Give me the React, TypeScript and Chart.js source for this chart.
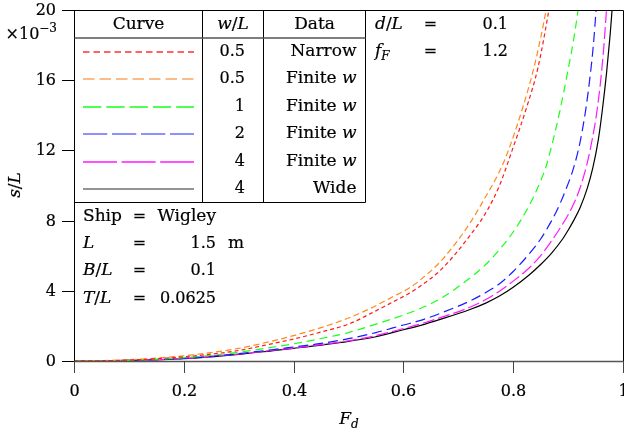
import React, { useEffect, useRef } from 'react';
import { Chart, registerables } from 'chart.js';

Chart.register(...registerables);

// ---- tick labels ----
const xTickValues = [0, 0.2, 0.4, 0.6, 0.8, 1];
const xTickLabels = ['0', '0.2', '0.4', '0.6', '0.8', '1'];
const yTickValues = [0, 4, 8, 12, 16, 20];
const yTickLabels = ['0', '4', '8', '12', '16', '20'];

// ---- series (s/L in units of 1e-3, against F_d) ----
const narrow05Fd = [0, 0.1, 0.2, 0.3, 0.36, 0.4, 0.45, 0.5, 0.54, 0.58, 0.61, 0.63, 0.67, 0.72, 0.753, 0.775, 0.798, 0.826, 0.845, 0.865, 0.88];
const narrow05S = [0, 0.05, 0.24, 0.6, 0.98, 1.25, 1.65, 2.1, 2.7, 3.35, 3.85, 4.25, 5.25, 7.1, 8.6, 10.0, 12.0, 14.6, 16.7, 20, 23];

const finite05Fd = [0, 0.1, 0.2, 0.3, 0.36, 0.4, 0.45, 0.5, 0.54, 0.58, 0.61, 0.63, 0.67, 0.72, 0.745, 0.775, 0.79, 0.817, 0.84, 0.86, 0.875];
const finite05S = [0, 0.07, 0.3, 0.72, 1.13, 1.45, 1.9, 2.45, 3.0, 3.65, 4.15, 4.6, 5.75, 7.8, 9.1, 10.8, 11.9, 14.4, 17.0, 20, 22.8];

const finite1Fd = [0, 0.1, 0.2, 0.3, 0.36, 0.4, 0.45, 0.5, 0.55, 0.6, 0.63, 0.67, 0.72, 0.75, 0.775, 0.8, 0.829, 0.845, 0.86, 0.872, 0.884, 0.9, 0.91, 0.918, 0.93];
const finite1S = [0, 0.04, 0.19, 0.5, 0.78, 0.98, 1.28, 1.62, 2.1, 2.62, 2.98, 3.6, 4.7, 5.5, 6.35, 7.35, 8.85, 9.9, 11.1, 12.5, 14.1, 16.6, 18.3, 20, 23.5];

const finite2Fd = [0, 0.1, 0.2, 0.3, 0.36, 0.4, 0.45, 0.5, 0.55, 0.6, 0.63, 0.67, 0.72, 0.75, 0.775, 0.8, 0.829, 0.85, 0.87, 0.88, 0.895, 0.91, 0.922, 0.932, 0.94, 0.946, 0.951, 0.958];
const finite2S = [0, 0.035, 0.15, 0.42, 0.64, 0.8, 1.0, 1.27, 1.62, 2.05, 2.3, 2.75, 3.4, 3.9, 4.4, 5.1, 6.1, 6.95, 8.0, 8.6, 9.7, 11.0, 12.5, 14.3, 16.2, 18.0, 20, 23];

const finite4Fd = [0, 0.1, 0.2, 0.3, 0.36, 0.4, 0.5, 0.55, 0.6, 0.63, 0.67, 0.72, 0.75, 0.775, 0.8, 0.829, 0.85, 0.87, 0.89, 0.907, 0.92, 0.935, 0.945, 0.951, 0.958, 0.964, 0.969, 0.975];
const finite4S = [0, 0.03, 0.14, 0.4, 0.6, 0.74, 1.15, 1.45, 1.85, 2.1, 2.5, 3.05, 3.5, 3.98, 4.55, 5.3, 6.0, 6.85, 7.8, 8.75, 9.7, 11.3, 12.8, 13.9, 15.6, 17.5, 19.6, 22.5];

const wide4Fd = [0, 0.1, 0.2, 0.3, 0.36, 0.4, 0.5, 0.55, 0.6, 0.63, 0.67, 0.72, 0.75, 0.775, 0.8, 0.829, 0.85, 0.87, 0.89, 0.9, 0.91, 0.922, 0.935, 0.945, 0.955, 0.962, 0.97, 0.976, 0.98, 0.986];
const wide4S = [0, 0.03, 0.13, 0.38, 0.58, 0.72, 1.12, 1.38, 1.78, 2.02, 2.4, 2.92, 3.3, 3.7, 4.2, 4.9, 5.5, 6.15, 6.95, 7.45, 8.0, 8.75, 9.85, 11.0, 12.6, 14.2, 16.4, 18.4, 20, 23.5];

// ---- legend table text ----
const wOverL = ['0.5', '0.5', '1', '2', '4', '4'];
const dataKind = ['Narrow', 'Finite', 'Finite', 'Finite', 'Finite', 'Wide'];

const series = [
  { fd: narrow05Fd, s: narrow05S, color: '#ff1a1a', dash: [4, 3], legendDash: [6.5, 4], legendColor: '#ff3030' },
  { fd: finite05Fd, s: finite05S, color: '#ff8a1e', dash: [6, 3.5], legendDash: [11.5, 5], legendColor: '#f7a868' },
  { fd: finite1Fd, s: finite1S, color: '#19ff19', dash: [8, 5], legendDash: [18.3, 5], legendColor: '#19ff19' },
  { fd: finite2Fd, s: finite2S, color: '#1a1aff', dash: [10, 5], legendDash: [24.3, 4.7], legendColor: '#6b6bff' },
  { fd: finite4Fd, s: finite4S, color: '#ff19ff', dash: [12, 4], legendDash: [34, 4.6], legendColor: '#ff19ff' },
  { fd: wide4Fd, s: wide4S, color: '#000000', dash: [], legendDash: [], legendColor: '#707070' },
];

const FAM = '"DejaVu Serif"';
const RM = `16px ${FAM}`;
const WD = `17px ${FAM}`;
const IT = `italic 17px ${FAM}`;
const SM = `12px ${FAM}`;
const SMIT = `italic 12px ${FAM}`;

type Run = { t: string; f: string; dy?: number };

function drawRuns(ctx: CanvasRenderingContext2D, runs: Run[], x: number, y: number, align: 'left' | 'right' | 'center') {
  let total = 0;
  const widths = runs.map((r) => {
    ctx.font = r.f;
    const w = ctx.measureText(r.t).width;
    total += w;
    return w;
  });
  let cx = align === 'left' ? x : align === 'right' ? x - total : x - total / 2;
  ctx.textAlign = 'left';
  ctx.textBaseline = 'middle';
  ctx.save();
  ctx.fillStyle = '#000';
  ctx.strokeStyle = '#000';
  ctx.lineWidth = 0.2;
  ctx.setLineDash([]);
  runs.forEach((r, i) => {
    ctx.font = r.f;
    ctx.fillText(r.t, cx, y + (r.dy || 0));
    ctx.strokeText(r.t, cx, y + (r.dy || 0));
    cx += widths[i];
  });
  ctx.restore();
}

function hLine(ctx: CanvasRenderingContext2D, x1: number, x2: number, y: number) {
  ctx.beginPath();
  ctx.moveTo(x1, y);
  ctx.lineTo(x2, y);
  ctx.stroke();
}
function vLine(ctx: CanvasRenderingContext2D, x: number, y1: number, y2: number) {
  ctx.beginPath();
  ctx.moveTo(x, y1);
  ctx.lineTo(x, y2);
  ctx.stroke();
}

const overlay = {
  id: 'overlay',
  afterDraw(chart: any) {
    const ctx: CanvasRenderingContext2D = chart.ctx;
    const a = chart.chartArea;
    const xs = chart.scales.x;
    const ys = chart.scales.y;
    ctx.save();
    ctx.strokeStyle = '#000';
    ctx.lineWidth = 1;
    ctx.setLineDash([]);

    const L = Math.round(a.left) + 0.5;
    const T = Math.round(a.top) + 0.5;
    const R = Math.round(a.right) + 0.5;
    const B = Math.round(a.bottom);

    // frame
    vLine(ctx, L, T - 0.5, B + 1);
    hLine(ctx, L, R, T);
    vLine(ctx, R, T, B + 1);
    ctx.strokeStyle = '#555';
    ctx.lineWidth = 1.3;
    hLine(ctx, L - 0.5, R, B + 0.5);

    // y ticks
    ctx.strokeStyle = '#000';
    ctx.lineWidth = 1;
    yTickValues.forEach((v, i) => {
      const py = Math.round(ys.getPixelForValue(v)) + 0.5;
      hLine(ctx, L - 12.5, L, py);
      drawRuns(ctx, [{ t: yTickLabels[i], f: RM }], 56, py, 'right');
    });
    // x ticks
    ctx.strokeStyle = '#444';
    xTickValues.forEach((v, i) => {
      const px = Math.round(xs.getPixelForValue(v)) + 0.5;
      vLine(ctx, px, B, B + 12);
      drawRuns(ctx, [{ t: xTickLabels[i], f: RM }], px, 392, 'center');
    });

    // exponent
    drawRuns(ctx, [{ t: '\u00d710', f: RM }, { t: '\u22123', f: SM, dy: -6 }], 57, 35, 'right');

    // axis titles
    drawRuns(ctx, [{ t: 'F', f: IT }, { t: 'd', f: SMIT, dy: 5 }], 349, 420, 'center');
    ctx.save();
    ctx.translate(16, 185);
    ctx.rotate(-Math.PI / 2);
    drawRuns(ctx, [{ t: 's', f: IT }, { t: '/', f: WD }, { t: 'L', f: IT }], 0, 0, 'center');
    ctx.restore();

    // legend table
    const tL = L;
    const tR = 365.5;
    const c1 = 202.5;
    const c2 = 263.5;
    const tB = 202.5;
    ctx.strokeStyle = '#000';
    ctx.lineWidth = 1;
    vLine(ctx, c1, T, tB);
    vLine(ctx, c2, T, tB);
    vLine(ctx, tR, T, tB);
    hLine(ctx, tL, tR, tB);
    ctx.strokeStyle = '#555';
    ctx.lineWidth = 1.3;
    hLine(ctx, tL, tR, 38);

    drawRuns(ctx, [{ t: 'Curve', f: WD }], 138.5, 25, 'center');
    drawRuns(ctx, [{ t: 'w', f: IT }, { t: '/', f: WD }, { t: 'L', f: IT }], 233, 25, 'center');
    drawRuns(ctx, [{ t: 'Data', f: WD }], 314.5, 25, 'center');

    series.forEach((s, i) => {
      const yRow = 51.5 + i * 27.5;
      ctx.strokeStyle = s.legendColor;
      ctx.lineWidth = i === 5 ? 1.6 : 1.3;
      ctx.setLineDash(s.legendDash);
      hLine(ctx, 83, 194, Math.round(yRow));
      ctx.setLineDash([]);
      drawRuns(ctx, [{ t: wOverL[i], f: RM }], 245, yRow, 'right');
      const runs: Run[] = dataKind[i] === 'Finite' ? [{ t: 'Finite ', f: WD }, { t: 'w', f: IT }] : [{ t: dataKind[i], f: WD }];
      drawRuns(ctx, runs, 356.5, yRow, 'right');
    });

    // ship parameters
    drawRuns(ctx, [{ t: 'Ship', f: WD }], 83, 217, 'left');
    drawRuns(ctx, [{ t: '=', f: RM }], 139.5, 217, 'center');
    drawRuns(ctx, [{ t: 'Wigley', f: WD }], 216, 217, 'right');

    drawRuns(ctx, [{ t: 'L', f: IT }], 83, 244, 'left');
    drawRuns(ctx, [{ t: '=', f: RM }], 139.5, 244, 'center');
    drawRuns(ctx, [{ t: '1.5', f: RM }], 216, 244, 'right');
    drawRuns(ctx, [{ t: 'm', f: WD }], 228, 244, 'left');

    drawRuns(ctx, [{ t: 'B', f: IT }, { t: '/', f: WD }, { t: 'L', f: IT }], 83, 271, 'left');
    drawRuns(ctx, [{ t: '=', f: RM }], 139.5, 271, 'center');
    drawRuns(ctx, [{ t: '0.1', f: RM }], 216, 271, 'right');

    drawRuns(ctx, [{ t: 'T', f: IT }, { t: '/', f: WD }, { t: 'L', f: IT }], 83, 299, 'left');
    drawRuns(ctx, [{ t: '=', f: RM }], 139.5, 299, 'center');
    drawRuns(ctx, [{ t: '0.0625', f: RM }], 216, 299, 'right');

    // water parameters
    drawRuns(ctx, [{ t: 'd', f: IT }, { t: '/', f: WD }, { t: 'L', f: IT }], 375, 25, 'left');
    drawRuns(ctx, [{ t: '=', f: RM }], 430.5, 25, 'center');
    drawRuns(ctx, [{ t: '0.1', f: RM }], 508, 25, 'right');
    drawRuns(ctx, [{ t: 'f', f: IT }, { t: 'F', f: SMIT, dy: 5 }], 375, 52, 'left');
    drawRuns(ctx, [{ t: '=', f: RM }], 430.5, 52, 'center');
    drawRuns(ctx, [{ t: '1.2', f: RM }], 508, 52, 'right');

    ctx.restore();
  },
};

export default function App() {
  const ref = useRef<HTMLCanvasElement | null>(null);
  useEffect(() => {
    if (!ref.current) return;
    const chart = new Chart(ref.current, {
      type: 'line',
      data: {
        datasets: series.map((s) => ({
          data: s.fd.map((x, i) => ({ x, y: s.s[i] })),
          borderColor: s.color,
          borderDash: s.dash,
          borderWidth: 1.2,
          pointRadius: 0,
          fill: false,
          cubicInterpolationMode: 'monotone' as const,
          clip: 0,
        })),
      },
      options: {
        animation: false,
        responsive: false,
        events: [],
        layout: { padding: { left: 0, top: 10, right: 1, bottom: 0 } },
        plugins: { legend: { display: false }, tooltip: { enabled: false } },
        scales: {
          x: {
            type: 'linear',
            min: 0,
            max: 1,
            ticks: { display: false },
            grid: { display: false },
            border: { display: false },
            afterFit: (s: any) => {
              s.height = 80;
            },
          },
          y: {
            type: 'linear',
            min: 0,
            max: 20,
            ticks: { display: false },
            grid: { display: false },
            border: { display: false },
            afterFit: (s: any) => {
              s.width = 74;
            },
          },
        },
      },
      plugins: [overlay],
    } as any);
    return () => chart.destroy();
  }, []);
  return (
    <div style={{ position: 'absolute', left: 0, top: 0, width: 624, height: 441, background: '#fff' }}>
      <canvas ref={ref} width={624} height={441} style={{ display: 'block' }} />
    </div>
  );
}
